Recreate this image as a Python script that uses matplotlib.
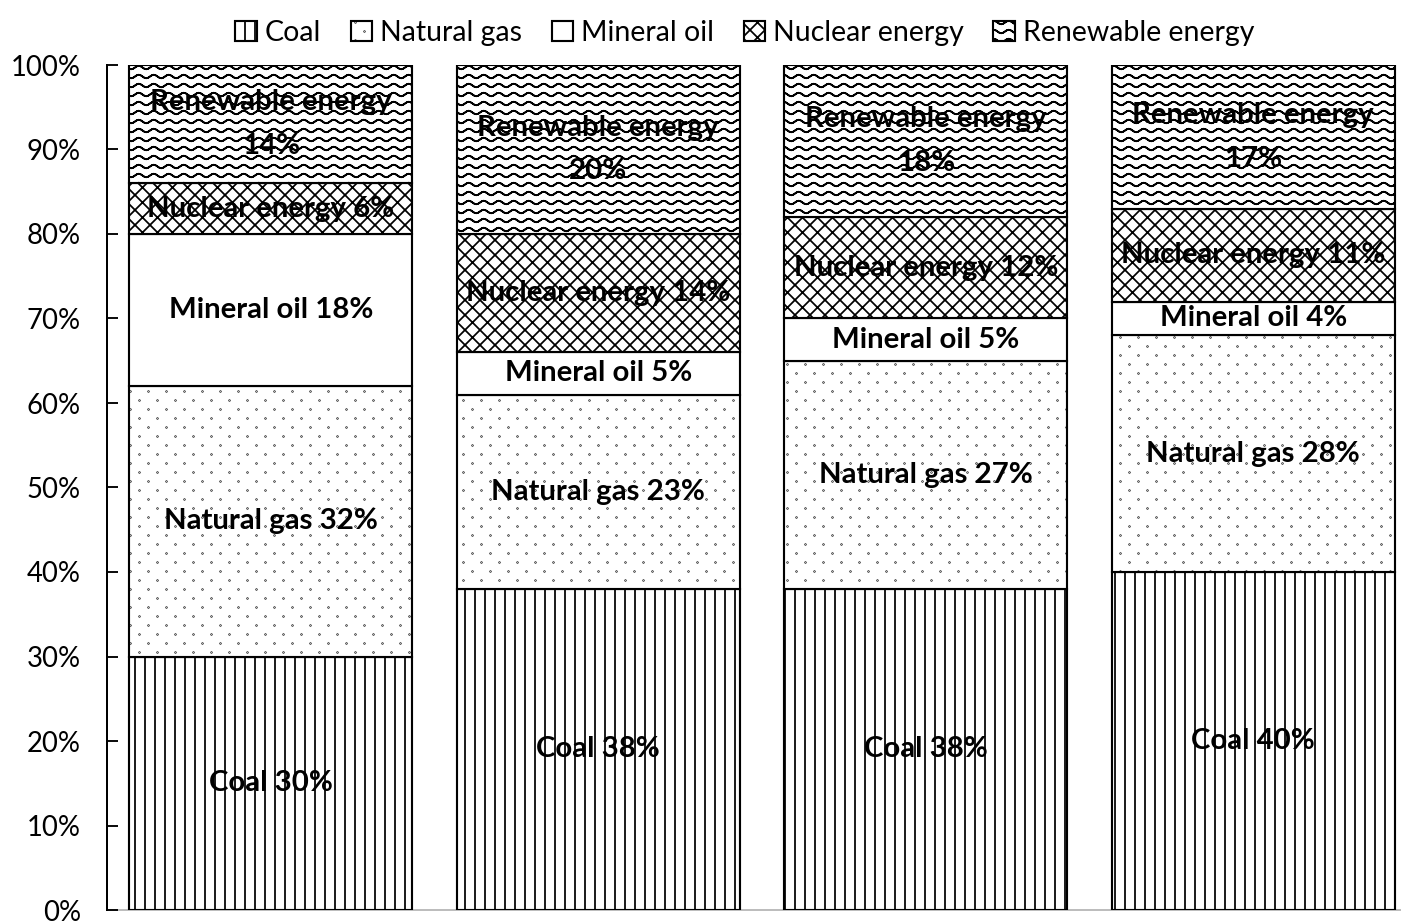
import numpy as np
import matplotlib
matplotlib.use("Agg")
import matplotlib.pyplot as plt
import matplotlib.hatch as mhatch
from matplotlib.path import Path

# ---- data -------------------------------------------------------------
sources = ["Coal", "Natural gas", "Mineral oil", "Nuclear energy", "Renewable energy"]
coal = [30, 38, 38, 40]
natural_gas = [32, 23, 27, 28]
mineral_oil = [18, 5, 5, 4]
nuclear = [6, 14, 12, 11]
renewable = [14, 20, 18, 17]
y_ticks = [0, 10, 20, 30, 40, 50, 60, 70, 80, 90, 100]
y_tick_labels = [f"{t}%" for t in y_ticks]

series = [coal, natural_gas, mineral_oil, nuclear, renewable]
hatches = ["|", ".", None, "x", "o"]


# ---- fill patterns (one tile = one inch) -------------------------------
class Stripes(mhatch.HatchPatternBase):
    """Vertical stripes, selected by '|'."""
    def __init__(self, hatch, density):
        self.n = 9 * hatch.count("|")
        self.num_vertices = 2 * self.n

    def set_vertices_and_codes(self, vertices, codes):
        xs = (np.arange(self.n) + 0.5) / self.n
        vertices[0::2, 0] = xs
        vertices[0::2, 1] = 0.0
        vertices[1::2, 0] = xs
        vertices[1::2, 1] = 1.0
        codes[0::2] = Path.MOVETO
        codes[1::2] = Path.LINETO


class Lattice(mhatch.HatchPatternBase):
    """Diagonal cross-hatching, selected by 'x'."""
    def __init__(self, hatch, density):
        self.n = 6 * hatch.count("x")
        self.m = 2 * self.n + 1 if self.n else 0
        self.num_vertices = 4 * self.m

    def set_vertices_and_codes(self, vertices, codes):
        m = self.m
        c = np.arange(-self.n, self.n + 1) / self.n
        vertices[0:2 * m:2] = np.column_stack([np.zeros(m), c])
        vertices[1:2 * m:2] = np.column_stack([np.ones(m), c + 1])
        d = c + 1
        vertices[2 * m::2] = np.column_stack([np.zeros(m), d])
        vertices[2 * m + 1::2] = np.column_stack([np.ones(m), d - 1])
        codes[0::2] = Path.MOVETO
        codes[1::2] = Path.LINETO


class Dots(mhatch.HatchPatternBase):
    """Staggered small dots, selected by '.'."""
    rows, cols, radius = 10, 5, 0.003

    def __init__(self, hatch, density):
        self.on = hatch.count(".") > 0
        circ = Path.unit_circle()
        self.shape_v = circ.vertices
        self.shape_c = circ.codes
        self.num_vertices = (self.rows * self.cols * len(circ.vertices)) if self.on else 0

    def set_vertices_and_codes(self, vertices, codes):
        k = len(self.shape_v)
        idx = 0
        for j in range(self.rows):
            y = (j + 0.5) / self.rows
            shift = 0.5 * (j % 2)
            for i in range(self.cols):
                x = (i + 0.25 + shift) / self.cols
                vertices[idx:idx + k] = self.shape_v * self.radius + (x, y)
                codes[idx:idx + k] = self.shape_c
                idx += k


class Waves(mhatch.HatchPatternBase):
    """Wavy horizontal lines, selected by 'o'."""
    rows, periods, amp, pts = 10, 6, 0.019, 97

    def __init__(self, hatch, density):
        self.on = hatch.count("o") > 0
        self.num_vertices = self.rows * 2 * self.pts if self.on else 0

    def set_vertices_and_codes(self, vertices, codes):
        xs = np.linspace(0, 1, self.pts)
        idx = 0
        for j in range(self.rows):
            y0 = (j + 0.5) / self.rows
            ys = y0 + self.amp * np.sin(2 * np.pi * self.periods * xs)
            fwd = np.column_stack([xs, ys])
            line = np.vstack([fwd, fwd[::-1]])  # traced there and back
            n = len(line)
            vertices[idx:idx + n] = line
            codes[idx:idx + n] = Path.LINETO
            codes[idx] = Path.MOVETO
            idx += n


mhatch._hatch_types = [Stripes, Lattice, Dots, Waves]

# ---- figure -------------------------------------------------------------
plt.rcParams["font.family"] = ["Lato", "DejaVu Sans"]
plt.rcParams["hatch.linewidth"] = 1.4

DPI = 90
fig = plt.figure(figsize=(1401 / DPI, 923 / DPI), dpi=DPI)
ax = fig.add_axes([107 / 1401, 1 - 910 / 923, (1417 - 107) / 1401, (910 - 65) / 923])

x = np.arange(len(coal))
bottom = np.zeros(len(coal))
bar_width = 0.864
handles = []
for name, vals, hatch in zip(sources, series, hatches):
    vals = np.asarray(vals, dtype=float)
    bars = ax.bar(x, vals, width=bar_width, bottom=bottom, facecolor="white",
                  edgecolor="black", linewidth=1.7, hatch=hatch, label=name,
                  zorder=2)
    handles.append(bars)
    for xi, b, v in zip(x, bottom, vals):
        if name == "Renewable energy":
            txt = f"{name}\n{v:.0f}%"
        else:
            txt = f"{name} {v:.0f}%"
        ax.text(xi, b + v / 2, txt, ha="center", va="center", fontsize=23.5,
                fontweight="bold", color="black", linespacing=1.85, zorder=3)
    bottom += vals

ax.set_xlim(-0.5, len(coal) - 0.5)
ax.set_ylim(0, 100)
ax.set_xticks([])
ax.set_yticks(y_ticks)
ax.set_yticklabels(y_tick_labels, fontsize=22)
ax.tick_params(axis="y", direction="in", length=9, width=1.5, pad=21,
               colors="black")

for side in ("top", "right"):
    ax.spines[side].set_visible(False)
ax.spines["left"].set_linewidth(1.6)
ax.spines["left"].set_color("black")
ax.spines["bottom"].set_color("#bdbdbd")
ax.spines["bottom"].set_linewidth(1.6)
ax.spines["bottom"].set_zorder(1)

fig.legend(handles=handles, labels=sources, loc="center",
           bbox_to_anchor=(745 / 1401, 1 - 33 / 923), ncol=5, frameon=False,
           fontsize=22.8, handlelength=0.75, handleheight=0.75,
           handletextpad=0.3, columnspacing=1.02)

fig.savefig("out.png", dpi=DPI)
